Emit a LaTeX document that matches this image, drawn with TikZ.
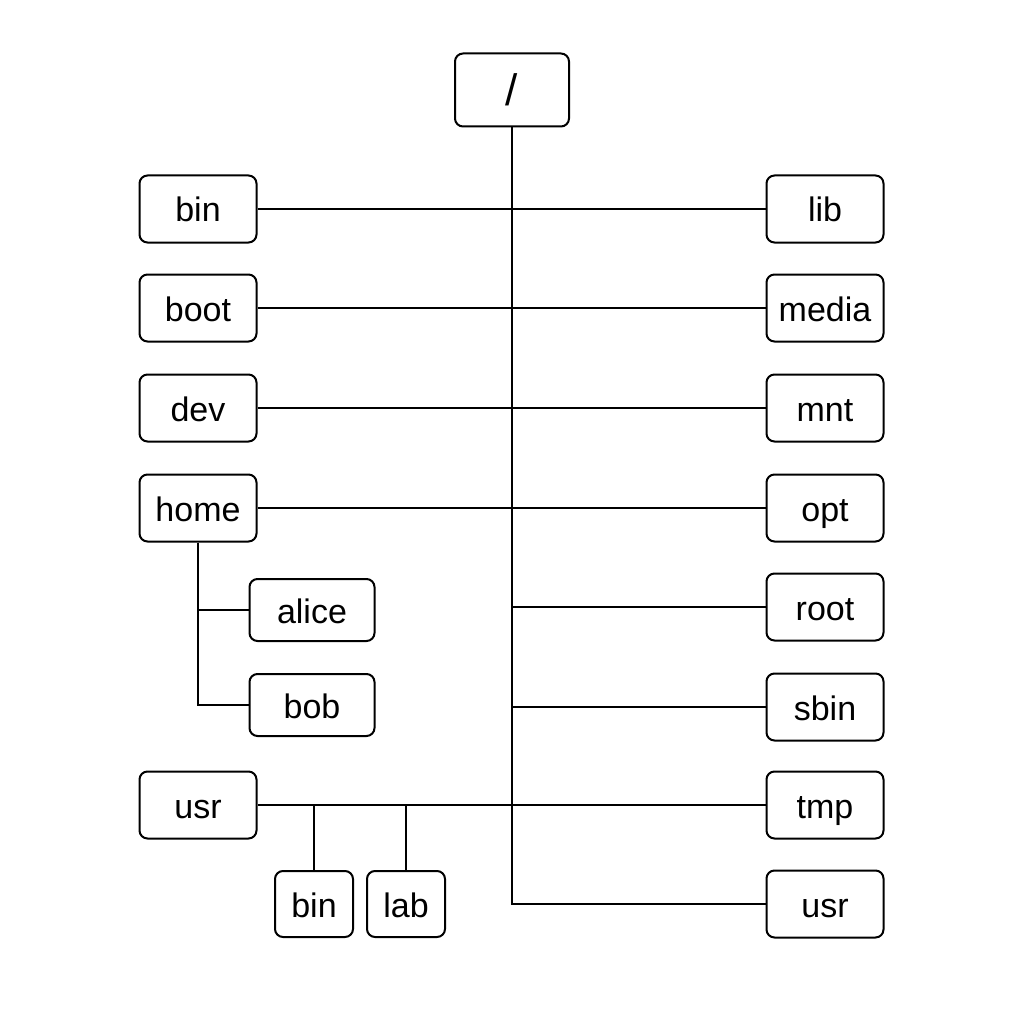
\documentclass[tikz,border=0pt]{standalone}
\usepackage{fontspec}
\setmainfont{Liberation Sans}
\begin{document}
\begin{tikzpicture}[x=1pt,y=-1pt,
  box/.style={draw,line width=2pt,rounded corners=8pt,minimum width=117pt,minimum height=67pt,inner sep=0pt,text height=30pt,text depth=4pt,font=\fontsize{34}{38}\selectfont},
  small/.style={box,minimum width=125pt,minimum height=62pt},
  tiny/.style={box,minimum width=78pt,minimum height=66pt},
  link/.style={line width=2pt}]
\useasboundingbox (0,0) rectangle (1024,1024);
\node[box,minimum width=114pt,minimum height=73pt,text height=38pt,text depth=6pt,font=\fontsize{44}{48}\selectfont] (root) at (512,90) {/};
\node[box] (bin) at (198,209) {bin};
\node[box] (boot) at (198,308) {boot};
\node[box] (dev) at (198,408) {dev};
\node[box] (home) at (198,508) {home};
\node[small] (alice) at (312,610) {alice};
\node[small] (bob) at (312,705) {bob};
\node[box] (usrL) at (198,805) {usr};
\node[tiny] (ubin) at (314,904) {bin};
\node[tiny] (ulab) at (406,904) {lab};
\node[box] (lib) at (825,209) {lib};
\node[box] (media) at (825,308) {media};
\node[box] (mnt) at (825,408) {mnt};
\node[box] (opt) at (825,508) {opt};
\node[box] (rootd) at (825,607) {root};
\node[box] (sbin) at (825,707) {sbin};
\node[box] (tmp) at (825,805) {tmp};
\node[box] (usrR) at (825,904) {usr};
\draw[link] (root.south) |- (usrR.west);
\draw[link] (bin.east) -- (lib.west);
\draw[link] (boot.east) -- (media.west);
\draw[link] (dev.east) -- (mnt.west);
\draw[link] (home.east) -- (opt.west);
\draw[link] (rootd.west) -- (rootd.west -| root.south);
\draw[link] (sbin.west) -- (sbin.west -| root.south);
\draw[link] (usrL.east) -- (tmp.west);
\draw[link] (home.south) |- (alice.west);
\draw[link] (home.south) |- (bob.west);
\draw[link] (ubin.north) -- (ubin.north |- usrL.east);
\draw[link] (ulab.north) -- (ulab.north |- usrL.east);
\end{tikzpicture}
\end{document}
